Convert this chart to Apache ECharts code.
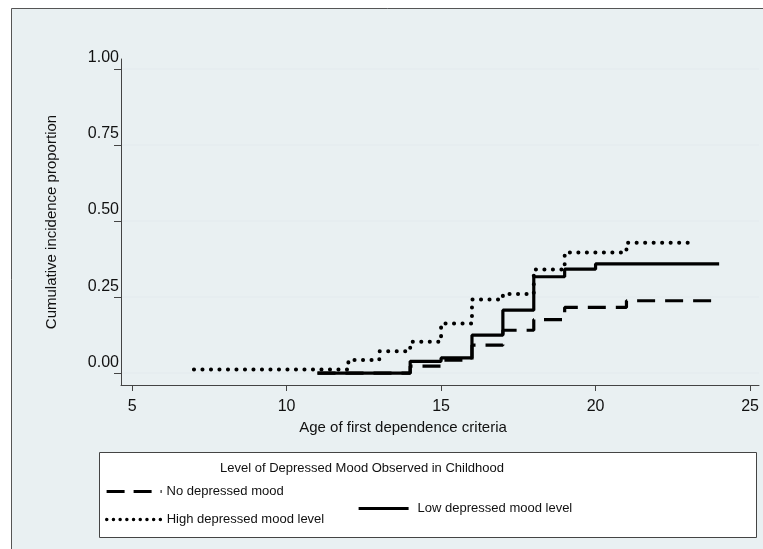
<!DOCTYPE html>
<html>
<head>
<meta charset="utf-8">
<script src="https://cdn.jsdelivr.net/npm/echarts@6/dist/echarts.min.js"></script>
<style>
html,body{margin:0;padding:0;background:#fff;}
#chart{width:763px;height:549px;}
</style>
</head>
<body>
<div id="chart"></div>
<script>
// ---- data ----
const ageTicks = [5, 10, 15, 20, 25];
const propTicks = [0, 0.25, 0.5, 0.75, 1];

const noName = 'No depressed mood';
const noAges = [11, 14, 15, 16, 17, 18, 19, 21, 24];
const noVals = [0, 0.023, 0.043, 0.092, 0.141, 0.176, 0.216, 0.238, 0.238];

const lowName = 'Low depressed mood level';
const lowAges = [11, 14, 15, 16, 17, 18, 19, 20, 24];
const lowVals = [0, 0.039, 0.05, 0.125, 0.207, 0.317, 0.342, 0.359, 0.359];

const highName = 'High depressed mood level';
const highAges = [7, 12, 13, 14, 15, 16, 17, 18, 19, 21, 23];
const highVals = [0.012, 0.043, 0.072, 0.103, 0.163, 0.242, 0.26, 0.341, 0.397, 0.429, 0.429];

const legendTitle = 'Level of Depressed Mood Observed in Childhood';
const xTitle = 'Age of first dependence criteria';
const yTitle = 'Cumulative incidence proportion';

function pairs(xs, ys) { return xs.map((x, i) => [x, ys[i]]); }

const FONT = '"Liberation Sans", Arial, sans-serif';
const chart = echarts.init(document.getElementById('chart'), null, {renderer: 'canvas'});

const legendCommon = {
  orient: 'horizontal', padding: 0, itemGap: 0, itemHeight: 14,
  itemStyle: {opacity: 0},
  textStyle: {fontFamily: FONT, fontSize: 13, color: '#111'},
  selectedMode: false
};

chart.setOption({
  animation: false,
  backgroundColor: '#fff',
  graphic: [
    {type: 'rect', z: 0, shape: {x: 11.5, y: 8.5, width: 800, height: 600},
     style: {fill: '#e9f0f2', stroke: '#555', lineWidth: 1}},
    {type: 'rect', z: 1, shape: {x: 99.5, y: 452.5, width: 657, height: 85},
     style: {fill: '#fff', stroke: '#444', lineWidth: 1}},
    {type: 'text', z: 2, x: 362, y: 468,
     style: {text: legendTitle, font: '13px ' + FONT, fill: '#111', align: 'center', verticalAlign: 'middle'}}
  ],
  grid: {left: 121, right: 4, top: 59, bottom: 164, show: true, backgroundColor: '#fff',
         borderWidth: 0, containLabel: false, outerBoundsMode: 'none'},
  xAxis: {
    type: 'value', min: 4.64, max: 25.29, z: 6,
    axisLine: {show: true, onZero: false, lineStyle: {color: '#444', width: 1}},
    axisTick: {show: true, length: 6, customValues: ageTicks, lineStyle: {color: '#444'}},
    axisLabel: {customValues: ageTicks, margin: 14, fontFamily: FONT, fontSize: 16, color: '#111'},
    splitLine: {show: false},
    name: xTitle, nameLocation: 'middle', nameGap: 31,
    nameTextStyle: {fontFamily: FONT, fontSize: 15, color: '#111', padding: [0, 74, 0, 0]}
  },
  yAxis: {
    type: 'value', min: -0.039, max: 1.033, z: 6,
    axisLine: {show: true, onZero: false, lineStyle: {color: '#444', width: 1}},
    axisTick: {show: true, length: 7, customValues: propTicks, lineStyle: {color: '#444'}},
    axisLabel: {customValues: propTicks, margin: 2, fontFamily: FONT, fontSize: 16, color: '#111',
                verticalAlign: 'bottom', padding: [0, 0, 3, 0],
                formatter: v => v.toFixed(2)},
    splitLine: {show: false},
    name: yTitle, nameLocation: 'middle', nameGap: 62,
    nameTextStyle: {fontFamily: FONT, fontSize: 15, color: '#111'}
  },
  legend: [
    Object.assign({}, legendCommon, {data: [noName], left: 105, top: 485, itemWidth: 55,
      lineStyle: {width: 3.2, type: [18, 9], cap: 'butt'}}),
    Object.assign({}, legendCommon, {data: [highName], left: 105, top: 513, itemWidth: 55,
      lineStyle: {width: 3.4, type: [0.1, 6.6], cap: 'round'}}),
    Object.assign({}, legendCommon, {data: [lowName], left: 357, top: 502, itemWidth: 50,
      lineStyle: {width: 3.2},
      textStyle: {fontFamily: FONT, fontSize: 13, color: '#111', padding: [0, 0, 6, 4]}})
  ],
  series: [
    {
      name: '_grid', type: 'line', data: [], z: 3, silent: true,
      markLine: {silent: true, symbol: ['none', 'none'], label: {show: false},
                 lineStyle: {color: '#e4ecef', width: 1.5, type: 'solid'},
                 data: propTicks.map(v => ({yAxis: v}))}
    },
    {
      name: highName, type: 'line', step: 'end', symbol: 'none', z: 5,
      data: pairs(highAges, highVals),
      lineStyle: {color: '#000', width: 4, type: [0.1, 8.4], cap: 'round'},
      itemStyle: {color: '#000'}
    },
    {
      name: noName, type: 'line', step: 'end', symbol: 'none', z: 5,
      data: pairs(noAges, noVals),
      lineStyle: {color: '#000', width: 3.2, type: [18, 10], cap: 'butt'},
      itemStyle: {color: '#000'}
    },
    {
      name: lowName, type: 'line', step: 'end', symbol: 'none', z: 5,
      data: pairs(lowAges, lowVals),
      lineStyle: {color: '#000', width: 3.2, type: 'solid'},
      itemStyle: {color: '#000'}
    }
  ]
});
</script>
</body>
</html>
